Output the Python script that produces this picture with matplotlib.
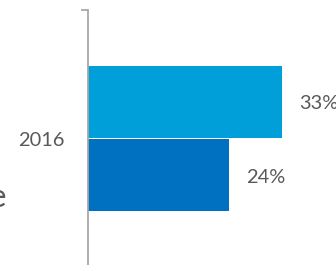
import matplotlib
matplotlib.use("Agg")
import matplotlib.pyplot as plt

categories = ["2016"]
series_a = [33]  # light blue
series_b = [24]  # dark blue
labels_a = ["33%"]
labels_b = ["24%"]

W, H = 336, 265
fig = plt.figure(figsize=(W / 100, H / 100), dpi=100)
ax = fig.add_axes([88 / W, -2 / H, (W - 88) / W, 257 / H])

bh = 0.28
off = 0.143
ys = list(range(len(categories)))
ax.barh([y + off for y in ys], series_a, height=bh, color="#009FDA", zorder=2)
ax.barh([y - off for y in ys], series_b, height=bh, color="#0070C0", zorder=2)

txt_kw = dict(fontsize=14.4, color="#595959", family=["Lato", "DejaVu Sans"])
for y, v, l in zip(ys, series_a, labels_a):
    ax.annotate(l, (v, y + off), xytext=(12.2, -1.5), textcoords="offset points",
                ha="left", va="center", **txt_kw)
for y, v, l in zip(ys, series_b, labels_b):
    ax.annotate(l, (v, y - off), xytext=(12.2, -1.5), textcoords="offset points",
                ha="left", va="center", **txt_kw)

ax.set_xlim(0, 248 / 5.88)
ax.set_ylim(-0.5, 0.5)
ax.set_xticks([])
ax.set_yticks(ys)
ax.set_yticklabels(categories, **txt_kw)
ax.tick_params(axis="y", which="major", length=0, pad=17)
ax.set_yticks([-0.5, 0.5], minor=True)
ax.tick_params(axis="y", which="minor", length=5, width=1.25, color="#A6A6A6")
for s in ["top", "right", "bottom"]:
    ax.spines[s].set_visible(False)
ax.spines["left"].set_color("#A6A6A6")
ax.spines["left"].set_linewidth(1.25)
ax.patch.set_alpha(0)

# clipped legend fragment at left edge
fig.text(6 / W, 1 - 198 / H, "e", ha="right", va="center", fontsize=24,
         color="#595959", family=["Lato", "DejaVu Sans"])

fig.savefig("out.png", dpi=100)
